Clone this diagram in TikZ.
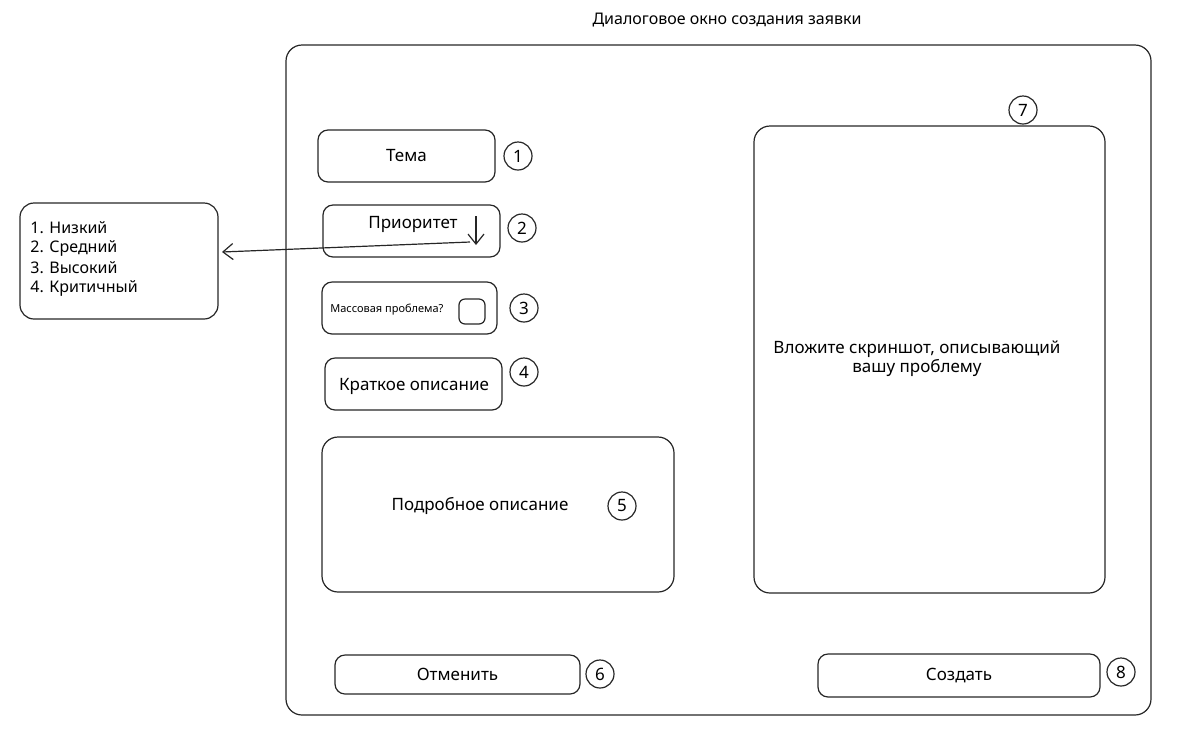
\documentclass[tikz,border=0pt]{standalone}
\usepackage{fontspec}
\setmainfont{Noto Sans}
\usetikzlibrary{fit,arrows.meta}
\begin{document}
\begin{tikzpicture}[x=0.5pt,y=-0.5pt,
  line/.style={draw=black!85, line width=0.6pt},
  box/.style={line, rounded corners=5pt, inner sep=0pt},
  num/.style={line, circle, minimum size=14pt, inner sep=0pt, font=\fontsize{8.5}{10}\selectfont},
  lbl/.style={font=\fontsize{8.5}{10}\selectfont, inner sep=0pt},
  tip/.style={-{Straight Barb[length=5pt,width=8pt]}}]
\useasboundingbox (0,0) rectangle (1200,741);
\node[lbl, font=\fontsize{8}{10}\selectfont] (title) at (727,20) {Диалоговое окно создания заявки};
\node[box, rounded corners=8pt, fit={(286,45) (1151,715)}] (frame) {};
% 1
\node[box, fit={(318,130) (495,182)}] (tema) {};
\node[lbl] (temat) at (tema.center) {Тема};
\node[num] (n1) at (518,156) {1};
% 2
\node[box, fit={(323,205) (500,257)}] (prio) {};
\node[lbl] (priot) at (413,224) {Приоритет};
\coordinate (dtop) at (476,216);
\coordinate (dbot) at (476,245);
\draw[line, tip] (dtop) -- (dbot);
\node[num] (n2) at (522,228) {2};
% list
\node[box, rounded corners=7pt, fit={(20,203) (218,319)}] (list) {};
\node[lbl, anchor=west, font=\fontsize{8}{10}\selectfont] (l1) at (30,228) {1. Низкий};
\node[lbl, anchor=west, font=\fontsize{8}{10}\selectfont] (l2) at (30,248) {2. Средний};
\node[lbl, anchor=west, font=\fontsize{8}{10}\selectfont] (l3) at (30,268) {3. Высокий};
\node[lbl, anchor=west, font=\fontsize{8}{10}\selectfont] (l4) at (30,288) {4. Критичный};
\coordinate (pstart) at (470,242);
\coordinate (pend) at (222,252);
\draw[line, tip] (pstart) -- (pend);
% 3
\node[box, fit={(322,282) (497,334)}] (mass) {};
\node[lbl, anchor=west, font=\fontsize{5.5}{7}\selectfont] (masst) at (330,310) {Массовая проблема?};
\node[box, rounded corners=3pt, fit={(459,299) (485,324)}] (check) {};
\node[num] (n3) at (524,308) {3};
% 4
\node[box, fit={(325,358) (502,410)}] (short) {};
\node[lbl] (shortt) at (414,386) {Краткое описание};
\node[num] (n4) at (524,372) {4};
% 5
\node[box, rounded corners=8pt, fit={(322,437) (674,592)}] (long) {};
\node[lbl] (longt) at (480,506) {Подробное описание};
\node[num] (n5) at (622,506) {5};
% 7
\node[box, rounded corners=8pt, fit={(754,126) (1105,593)}] (shot) {};
\node[lbl, align=center, font=\fontsize{8.5}{9.5}\selectfont] (shott) at (917,359) {Вложите скриншот, описывающий\\вашу проблему};
\node[num] (n7) at (1023,110) {7};
% 6
\node[box, fit={(335,655) (580,694)}] (cancel) {};
\node[lbl] (cancelt) at (cancel.center) {Отменить};
\node[num] (n6) at (600,674) {6};
% 8
\node[box, fit={(818,654) (1100,697)}] (create) {};
\node[lbl] (createt) at (create.center) {Создать};
\node[num] (n8) at (1121,672) {8};
\end{tikzpicture}
\end{document}
